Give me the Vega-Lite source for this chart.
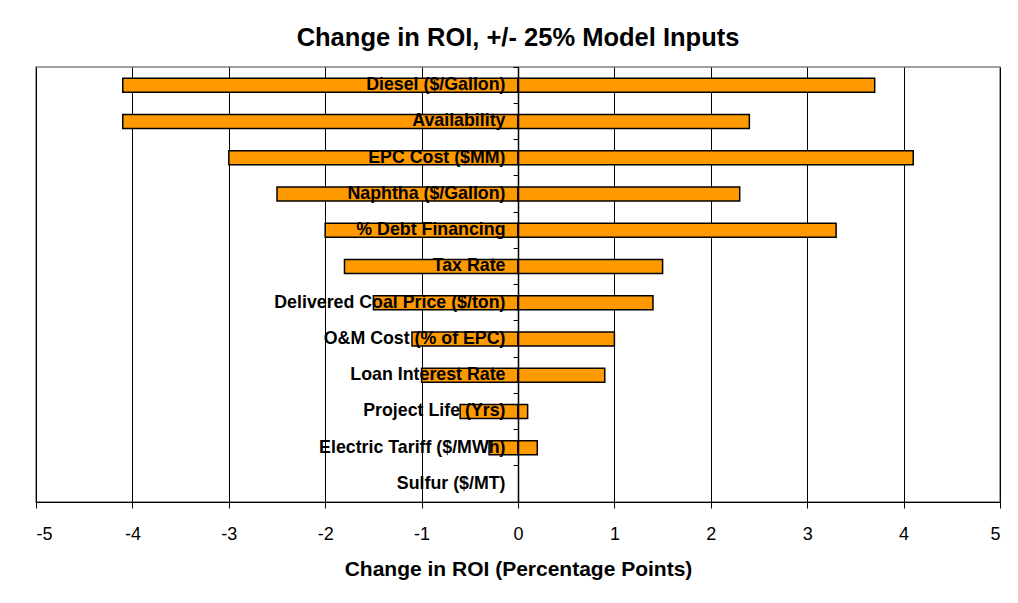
{
  "$schema": "https://vega.github.io/schema/vega-lite/v6.json",
  "width": 964,
  "height": 435,
  "autosize": {"type": "none"},
  "padding": {"left": 36, "top": 67, "right": 18, "bottom": 101},
  "background": "white",
  "title": {
    "text": "Change in ROI, +/- 25% Model Inputs",
    "font": "Liberation Sans",
    "fontSize": 25.5,
    "fontWeight": "bold",
    "color": "#000000",
    "anchor": "middle",
    "frame": "group",
    "baseline": "bottom",
    "offset": 15,
    "dy": 25
  },
  "config": {
    "view": {"stroke": "#808080", "strokeWidth": 1.5},
    "font": "Liberation Sans"
  },
  "data": {
    "values": [
      {"input": "Diesel ($/Gallon)", "side": "low", "value": -4.1},
      {"input": "Diesel ($/Gallon)", "side": "high", "value": 3.7},
      {"input": "Availability", "side": "low", "value": -4.1},
      {"input": "Availability", "side": "high", "value": 2.4},
      {"input": "EPC Cost ($MM)", "side": "low", "value": -3.0},
      {"input": "EPC Cost ($MM)", "side": "high", "value": 4.1},
      {"input": "Naphtha ($/Gallon)", "side": "low", "value": -2.5},
      {"input": "Naphtha ($/Gallon)", "side": "high", "value": 2.3},
      {"input": "% Debt Financing", "side": "low", "value": -2.0},
      {"input": "% Debt Financing", "side": "high", "value": 3.3},
      {"input": "Tax Rate", "side": "low", "value": -1.8},
      {"input": "Tax Rate", "side": "high", "value": 1.5},
      {"input": "Delivered Coal Price ($/ton)", "side": "low", "value": -1.5},
      {"input": "Delivered Coal Price ($/ton)", "side": "high", "value": 1.4},
      {"input": "O&M Cost (% of EPC)", "side": "low", "value": -1.1},
      {"input": "O&M Cost (% of EPC)", "side": "high", "value": 1.0},
      {"input": "Loan Interest Rate", "side": "low", "value": -1.0},
      {"input": "Loan Interest Rate", "side": "high", "value": 0.9},
      {"input": "Project Life (Yrs)", "side": "low", "value": -0.6},
      {"input": "Project Life (Yrs)", "side": "high", "value": 0.1},
      {"input": "Electric Tariff ($/MWh)", "side": "low", "value": -0.3},
      {"input": "Electric Tariff ($/MWh)", "side": "high", "value": 0.2}
    ]
  },
  "mark": {"type": "bar", "color": "#FF9900", "stroke": "#000000", "strokeWidth": 1.5, "size": 14},
  "encoding": {
    "x": {
      "field": "value",
      "type": "quantitative",
      "scale": {"domain": [-5, 5], "nice": false},
      "axis": {
        "values": [-5, -4, -3, -2, -1, 0, 1, 2, 3, 4, 5],
        "labelExpr": "'' + datum.value",
        "title": "Change in ROI (Percentage Points)",
        "titleFont": "Liberation Sans",
        "titleFontSize": 21,
        "titleFontWeight": "bold",
        "titleColor": "#000000",
        "titlePadding": 15,
        "labelFont": "Liberation Sans",
        "labelFontSize": 18,
        "labelColor": "#000000",
        "labelPadding": 17,
        "tickSize": 6,
        "tickColor": "#000000",
        "domainColor": "#000000",
        "grid": true,
        "gridColor": "#000000",
        "gridWidth": 1,
        "gridOpacity": 1
      }
    },
    "y": {
      "field": "input",
      "type": "nominal",
      "scale": {
        "domain": ["Diesel ($/Gallon)", "Availability", "EPC Cost ($MM)", "Naphtha ($/Gallon)", "% Debt Financing", "Tax Rate", "Delivered Coal Price ($/ton)", "O&M Cost (% of EPC)", "Loan Interest Rate", "Project Life (Yrs)", "Electric Tariff ($/MWh)", "Sulfur ($/MT)"],
        "paddingInner": 0,
        "paddingOuter": 0
      },
      "axis": {
        "title": null,
        "offset": -482,
        "zindex": 1,
        "bandPosition": 0,
        "labelFont": "Liberation Sans",
        "labelFontSize": 17.8,
        "labelFontWeight": "bold",
        "labelColor": "#000000",
        "labelLimit": 0,
        "labelPadding": 8,
        "tickSize": 5,
        "tickColor": "#000000",
        "domainColor": "#000000",
        "domainWidth": 1.5,
        "grid": false
      }
    }
  }
}
